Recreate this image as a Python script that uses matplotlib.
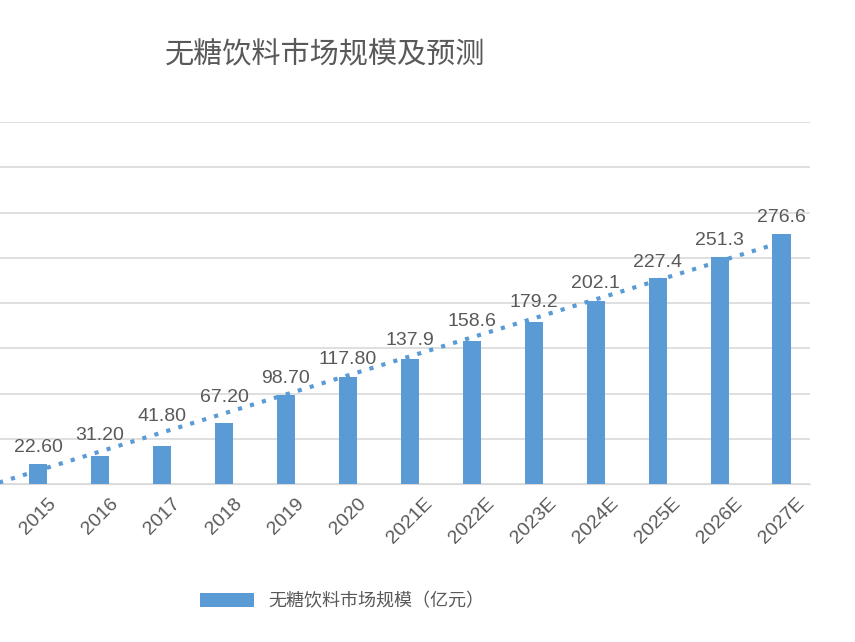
import numpy as np
import matplotlib.pyplot as plt

plt.rcParams['font.family'] = ['Noto Sans CJK JP', 'Noto Sans CJK SC', 'DejaVu Sans']

years = ['2014', '2015', '2016', '2017', '2018', '2019', '2020', '2021E', '2022E',
         '2023E', '2024E', '2025E', '2026E', '2027E']
values = [15.0, 22.6, 31.2, 41.8, 67.2, 98.7, 117.8, 137.9, 158.6, 179.2, 202.1,
          227.4, 251.3, 276.6]
labels = ['15.00', '22.60', '31.20', '41.80', '67.20', '98.70', '117.80', '137.9',
          '158.6', '179.2', '202.1', '227.4', '251.3', '276.6']

blue = '#5B9BD5'
fig = plt.figure(figsize=(8.55, 6.42), dpi=100)
ax = fig.add_axes([0.0, 0.246, 0.947, 0.564])
x = np.arange(len(years))
ax.bar(x, values, width=0.3, color=blue, label='无糖饮料市场规模（亿元）', zorder=3)
k, b = np.polyfit(x, values, 1)
ax.plot(x, k * x + b, linestyle=(0, (1, 2)), color=blue, linewidth=3, zorder=4)
for xi, v, t in zip(x, values, labels):
    ax.text(xi, max(v, k * xi + b) + 8, t, ha='center', va='bottom', fontsize=14,
            color='#595959', fontfamily='Liberation Sans')

ax.set_ylim(0, 400)
ax.set_yticks(np.arange(0, 401, 50))
ax.yaxis.grid(True, color='#d9d9d9', linewidth=1.2, zorder=0)
ax.tick_params(axis='y', left=False, labelleft=False)
ax.tick_params(axis='x', length=0, pad=8)
ax.set_xticks(x)
ax.set_xticklabels(years, rotation=45, fontsize=14, color='#595959', fontfamily='Liberation Sans')
ax.set_xlim(0.387, 13.45)
for s in ['top', 'right', 'left']:
    ax.spines[s].set_visible(False)
ax.spines['bottom'].set_color('#d9d9d9')

fig.text(0.38, 0.915, '无糖饮料市场规模及预测', ha='center', va='center', fontsize=21, color='#595959')
fig.legend(loc='center', bbox_to_anchor=(0.4, 0.063), frameon=False, fontsize=13,
           labelcolor='#595959', handlelength=3, handleheight=0.8)

fig.savefig('out.png')
